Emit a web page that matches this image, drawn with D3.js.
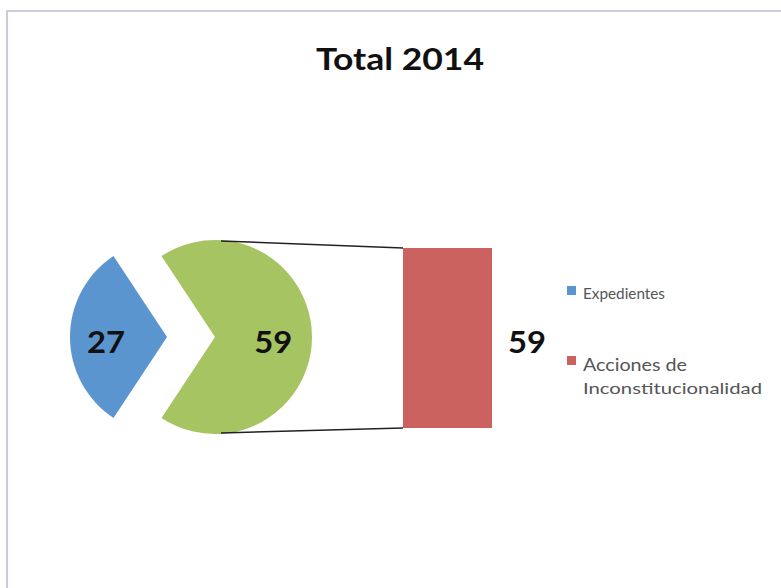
<!DOCTYPE html>
<html><head><meta charset="utf-8">
<script src="https://cdn.jsdelivr.net/npm/d3@7"></script>
<style>html,body{margin:0;padding:0;background:#fff;}svg{display:block;}</style>
</head><body>
<svg id="chart" width="781" height="588"></svg>
<script>
const title = "Total 2014";
const pieLabels = ["Expedientes", "Otro"];
const pieValues = [27, 59];
const barCategories = ["Acciones de Inconstitucionalidad"];
const barValues = [59];
const legendLabels = [["Expedientes"], ["Acciones de", "Inconstitucionalidad"]];

const colors = {blue: "#5b95cf", green: "#a6c462", red: "#cc625f"};
const font = "Lato, 'Open Sans', sans-serif";
const svg = d3.select("#chart");

// frame
svg.append("rect").attr("x", 7).attr("y", 11).attr("width", 800).attr("height", 600)
  .attr("fill", "#fff").attr("stroke", "#c4c7d8").attr("stroke-width", 1.8);

svg.append("text").attr("x", 400).attr("y", 70).attr("text-anchor", "middle")
  .attr("font-family", font).attr("font-weight", "bold")
  .attr("font-size", 30).attr("fill", "#111")
  .attr("textLength", 168).attr("lengthAdjust", "spacingAndGlyphs").text(title);

const cx = 215, cy = 337, r = 97, explode = 48;
const total = d3.sum(pieValues);
const blueSpan = pieValues[0] / total * 2 * Math.PI;
const start = 3 * Math.PI / 2 - blueSpan / 2;
const pie = d3.pie().sort(null).startAngle(start).endAngle(start + 2 * Math.PI);
const arcs = pie(pieValues);
const arc = d3.arc().innerRadius(0).outerRadius(r);
const sliceColors = [colors.blue, colors.green];
const labelDist = [0.63, 0.6];

const g = svg.append("g").attr("transform", `translate(${cx},${cy})`);
arcs.forEach((a, i) => {
  const mid = (a.startAngle + a.endAngle) / 2;
  const off = i === 0 ? explode : 0;
  const dx = Math.sin(mid) * off, dy = -Math.cos(mid) * off;
  const sg = g.append("g").attr("transform", `translate(${dx},${dy})`);
  sg.append("path").attr("d", arc(a)).attr("fill", sliceColors[i]);
  const lx = Math.sin(mid) * r * labelDist[i];
  const ly = -Math.cos(mid) * r * labelDist[i];
  sg.append("text").attr("x", lx).attr("y", ly + 16).attr("text-anchor", "middle")
    .attr("font-family", font).attr("font-weight", "bold")
    .attr("font-size", 30).attr("fill", "#111")
    .attr("textLength", 38).attr("lengthAdjust", "spacingAndGlyphs").text(pieValues[i]);
});

// bar
const y = d3.scaleLinear().domain([0, d3.max(barValues)]).range([428, 248]);
const x = d3.scaleBand().domain(barCategories).range([403, 492]).padding(0);
svg.selectAll("rect.bar").data(barValues).join("rect").attr("class", "bar")
  .attr("x", (d, i) => x(barCategories[i])).attr("width", x.bandwidth())
  .attr("y", d => y(d)).attr("height", d => y(0) - y(d)).attr("fill", colors.red);

// connectors
const bx = x(barCategories[0]);
svg.append("line").attr("x1", cx + 6).attr("y1", cy - r + 1).attr("x2", bx).attr("y2", y(barValues[0]))
  .attr("stroke", "#222").attr("stroke-width", 1.5);
svg.append("line").attr("x1", cx + 6).attr("y1", cy + r - 1).attr("x2", bx).attr("y2", y(0))
  .attr("stroke", "#222").attr("stroke-width", 1.5);

svg.append("text").attr("x", 527).attr("y", 353).attr("text-anchor", "middle")
  .attr("font-family", font).attr("font-weight", "bold")
  .attr("font-size", 30).attr("fill", "#111")
  .attr("textLength", 38).attr("lengthAdjust", "spacingAndGlyphs").text(barValues[0]);

// legend
const legColors = [colors.blue, colors.red];
const legSquareY = [286, 356];
const legLines = [
  [{y: 299, size: 15, len: 82}],
  [{y: 371, size: 17, len: 104}, {y: 394, size: 15, len: 179}]
];
legendLabels.forEach((lines, i) => {
  svg.append("rect").attr("x", 567).attr("y", legSquareY[i]).attr("width", 9).attr("height", 9)
    .attr("fill", legColors[i]);
  lines.forEach((t, j) => {
    const s = legLines[i][j];
    svg.append("text").attr("x", 583).attr("y", s.y).attr("font-family", font)
      .attr("font-size", s.size).attr("fill", "#555")
      .attr("textLength", s.len).attr("lengthAdjust", "spacingAndGlyphs").text(t);
  });
});
</script>
</body></html>
